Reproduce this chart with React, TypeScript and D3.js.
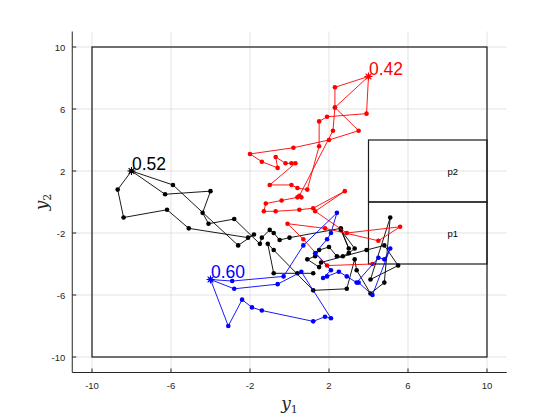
import React from "react";
import * as d3 from "d3";

// tick values shared by both axes
const ticks = [-10, -6, -2, 2, 6, 10];

// region boxes: [x0, y0, x1, y1]
const outerBox = [-10, -10, 10, 10];
const boxP2 = [4, 0, 10, 4];
const boxP1 = [4, -4, 10, 0];
const boxNames = ["p2", "p1"];
const boxNameY = [2, -2];

// trajectories, first point is the starred start
const blackPath: [number, number][] = [
  [-8.0, 2.0], [-8.7, 0.8], [-8.4, -1.0], [-6.2, -0.5], [-5.1, -1.7], [-2.1, -2.3],
  [-1.8, -2.1], [-2.6, -2.8], [-5.9, 1.1], [-8.0, 2.0], [-6.3, 0.5], [-4.0, 0.7],
  [-4.4, -0.7], [-4.1, -1.4], [-2.8, -1.1], [-1.5, -2.7], [-1.4, -2.3], [-1.0, -1.8],
  [-0.8, -2.0], [-0.5, -2.45], [0.0, -2.3], [2.6, -1.7], [3.0, -3.0], [2.6, -1.8],
  [3.3, -3.0], [3.0, -3.3], [2.7, -3.5], [2.4, -3.5], [2.0, -2.9], [1.5, -3.1],
  [1.3, -3.5], [0.9, -3.7], [1.5, -4.2], [1.6, -3.9], [3.9, -3.1], [4.8, -2.8],
  [5.5, -4.1], [4.1, -5.0], [5.1, -1.0], [4.8, -5.2], [4.1, -5.9], [3.4, -4.4],
  [3.3, -3.7], [2.9, -5.6], [1.2, -5.7], [-0.8, -3.1], [-1.1, -2.7], [-0.8, -4.6],
  [0.4, -4.6], [1.2, -4.6],
];

const redPath: [number, number][] = [
  [4.0, 8.1], [2.3, 7.4], [2.3, 6.1], [3.5, 4.6], [2.0, 4.0], [0.2, 3.5],
  [-2.0, 3.1], [-1.4, 2.6], [-0.6, 2.2], [-0.7, 2.9], [-0.2, 2.5], [0.1, 2.5],
  [0.3, 2.5], [-1.0, 1.1], [0.1, 1.1], [0.4, 0.9], [0.9, 0.8], [1.5, 3.6],
  [1.5, 5.2], [1.9, 5.5], [3.9, 5.7], [4.0, 8.1], [2.3, 6.1], [2.2, 4.6],
  [0.5, 0.4], [0.6, 0.3], [0.4, 0.3], [-0.4, 0.1], [-1.2, -0.1], [-1.3, -0.6],
  [-0.7, -0.6], [0.5, -0.5], [1.2, -0.4], [2.8, 0.7], [1.3, -0.6], [2.9, -2.0],
  [5.6, -1.6], [4.5, -2.5], [1.8, -1.7], [-0.1, -1.4], [0.7, -2.4], [1.9, -4.1],
  [4.2, -4.0],
];

const bluePath: [number, number][] = [
  [-4.0, -5.0], [-3.1, -8.0], [-2.4, -6.3], [-1.9, -6.8], [-1.4, -7.0], [1.2, -7.7],
  [1.8, -7.4], [2.1, -7.5], [0.6, -4.5], [-0.6, -5.3], [-2.8, -5.6], [-4.0, -5.0],
  [-2.9, -5.1], [-0.3, -4.8], [0.7, -2.8], [2.4, -0.7], [2.1, -2.0], [1.9, -2.4],
  [1.3, -3.3], [2.1, -4.4], [1.7, -4.9], [1.9, -4.8], [2.5, -4.5], [2.9, -4.8],
  [3.4, -5.2], [4.5, -3.6], [4.8, -3.7], [5.1, -3.0], [4.2, -6.0], [3.5, -5.2],
];

const paths = [blackPath, redPath, bluePath];
const pathColors = ["#000000", "#ff0000", "#0000ff"];
const pathLabels = ["0.52", "0.42", "0.60"];

const W = 560;
const H = 420;

export default function App() {
  const x = d3.scaleLinear().domain([-11, 11]).range([72.25, 506.75]);
  const y = d3.scaleLinear().domain([-11, 11]).range([372.5, 31.5]);
  const [x0, x1] = x.range();
  const [y0, y1] = y.range();

  const line = d3
    .line<[number, number]>()
    .x((d) => x(d[0]))
    .y((d) => y(d[1]));

  const rect = (b: number[], key: string) => (
    <rect
      key={key}
      x={x(b[0])}
      y={y(b[3])}
      width={x(b[2]) - x(b[0])}
      height={y(b[1]) - y(b[3])}
      fill="none"
      stroke="#1a1a1a"
      strokeWidth={1.2}
    />
  );

  const star = (cx: number, cy: number, c: string) => {
    const r = 4;
    const d = r * 0.72;
    return (
      <g stroke={c} strokeWidth={1.1}>
        <line x1={cx - r} y1={cy} x2={cx + r} y2={cy} />
        <line x1={cx} y1={cy - r} x2={cx} y2={cy + r} />
        <line x1={cx - d} y1={cy - d} x2={cx + d} y2={cy + d} />
        <line x1={cx - d} y1={cy + d} x2={cx + d} y2={cy - d} />
      </g>
    );
  };

  return (
    <svg
      width={W}
      height={H}
      style={{ position: "absolute", left: 0, top: 0, background: "#fff" }}
      fontFamily="Helvetica, 'Liberation Sans', Arial, sans-serif"
    >
      {/* grid */}
      <g stroke="#dcdcdc" strokeWidth={0.8}>
        {ticks.map((t) => (
          <line key={"gx" + t} x1={x(t)} x2={x(t)} y1={y1} y2={y0} />
        ))}
        {ticks.map((t) => (
          <line key={"gy" + t} x1={x0} x2={x1} y1={y(t)} y2={y(t)} />
        ))}
      </g>

      {/* axes */}
      <g stroke="#262626" strokeWidth={1}>
        <line x1={x0} x2={x1} y1={y0} y2={y0} />
        <line x1={x0} x2={x0} y1={y1} y2={y0} />
        {ticks.map((t) => (
          <line key={"tx" + t} x1={x(t)} x2={x(t)} y1={y0} y2={y0 - 4} />
        ))}
        {ticks.map((t) => (
          <line key={"ty" + t} x1={x0} x2={x0 + 4} y1={y(t)} y2={y(t)} />
        ))}
      </g>
      <g fontSize={9.5} fill="#262626">
        {ticks.map((t) => (
          <text key={"lx" + t} x={x(t)} y={y0 + 16} textAnchor="middle">
            {t}
          </text>
        ))}
        {ticks.map((t) => (
          <text key={"ly" + t} x={x0 - 7} y={y(t) + 3.5} textAnchor="end">
            {t}
          </text>
        ))}
      </g>

      {/* axis titles */}
      <text
        x={(x0 + x1) / 2}
        y={409}
        textAnchor="middle"
        fontFamily="'DejaVu Serif', 'Liberation Serif', serif"
        fontStyle="italic"
        fontSize={17}
        fill="#262626"
      >
        y<tspan fontStyle="normal" fontSize={11} dy={4}>1</tspan>
      </text>
      <text
        transform={`translate(47, ${(y0 + y1) / 2}) rotate(-90)`}
        textAnchor="middle"
        fontFamily="'DejaVu Serif', 'Liberation Serif', serif"
        fontStyle="italic"
        fontSize={17}
        fill="#262626"
      >
        y<tspan fontStyle="normal" fontSize={11} dy={4}>2</tspan>
      </text>

      {/* regions */}
      {rect(outerBox, "outer")}
      {rect(boxP2, "p2")}
      {rect(boxP1, "p1")}
      {boxNames.map((n, i) => (
        <text key={n} x={x(8)} y={y(boxNameY[i]) + 3.5} fontSize={9.5} fill="#000">
          {n}
        </text>
      ))}

      {/* trajectories */}
      {paths.map((p, i) => (
        <g key={"path" + i}>
          <path d={line(p) || ""} fill="none" stroke={pathColors[i]} strokeWidth={0.9} />
          {p.slice(1).map((d, j) => (
            <circle key={j} cx={x(d[0])} cy={y(d[1])} r={2.3} fill={pathColors[i]} />
          ))}
          {star(x(p[0][0]), y(p[0][1]), pathColors[i])}
          <text
            x={x(p[0][0]) + 0.5}
            y={y(p[0][1]) - 1.5}
            fontSize={17.5}
            fill={pathColors[i]}
          >
            {pathLabels[i]}
          </text>
        </g>
      ))}
    </svg>
  );
}
